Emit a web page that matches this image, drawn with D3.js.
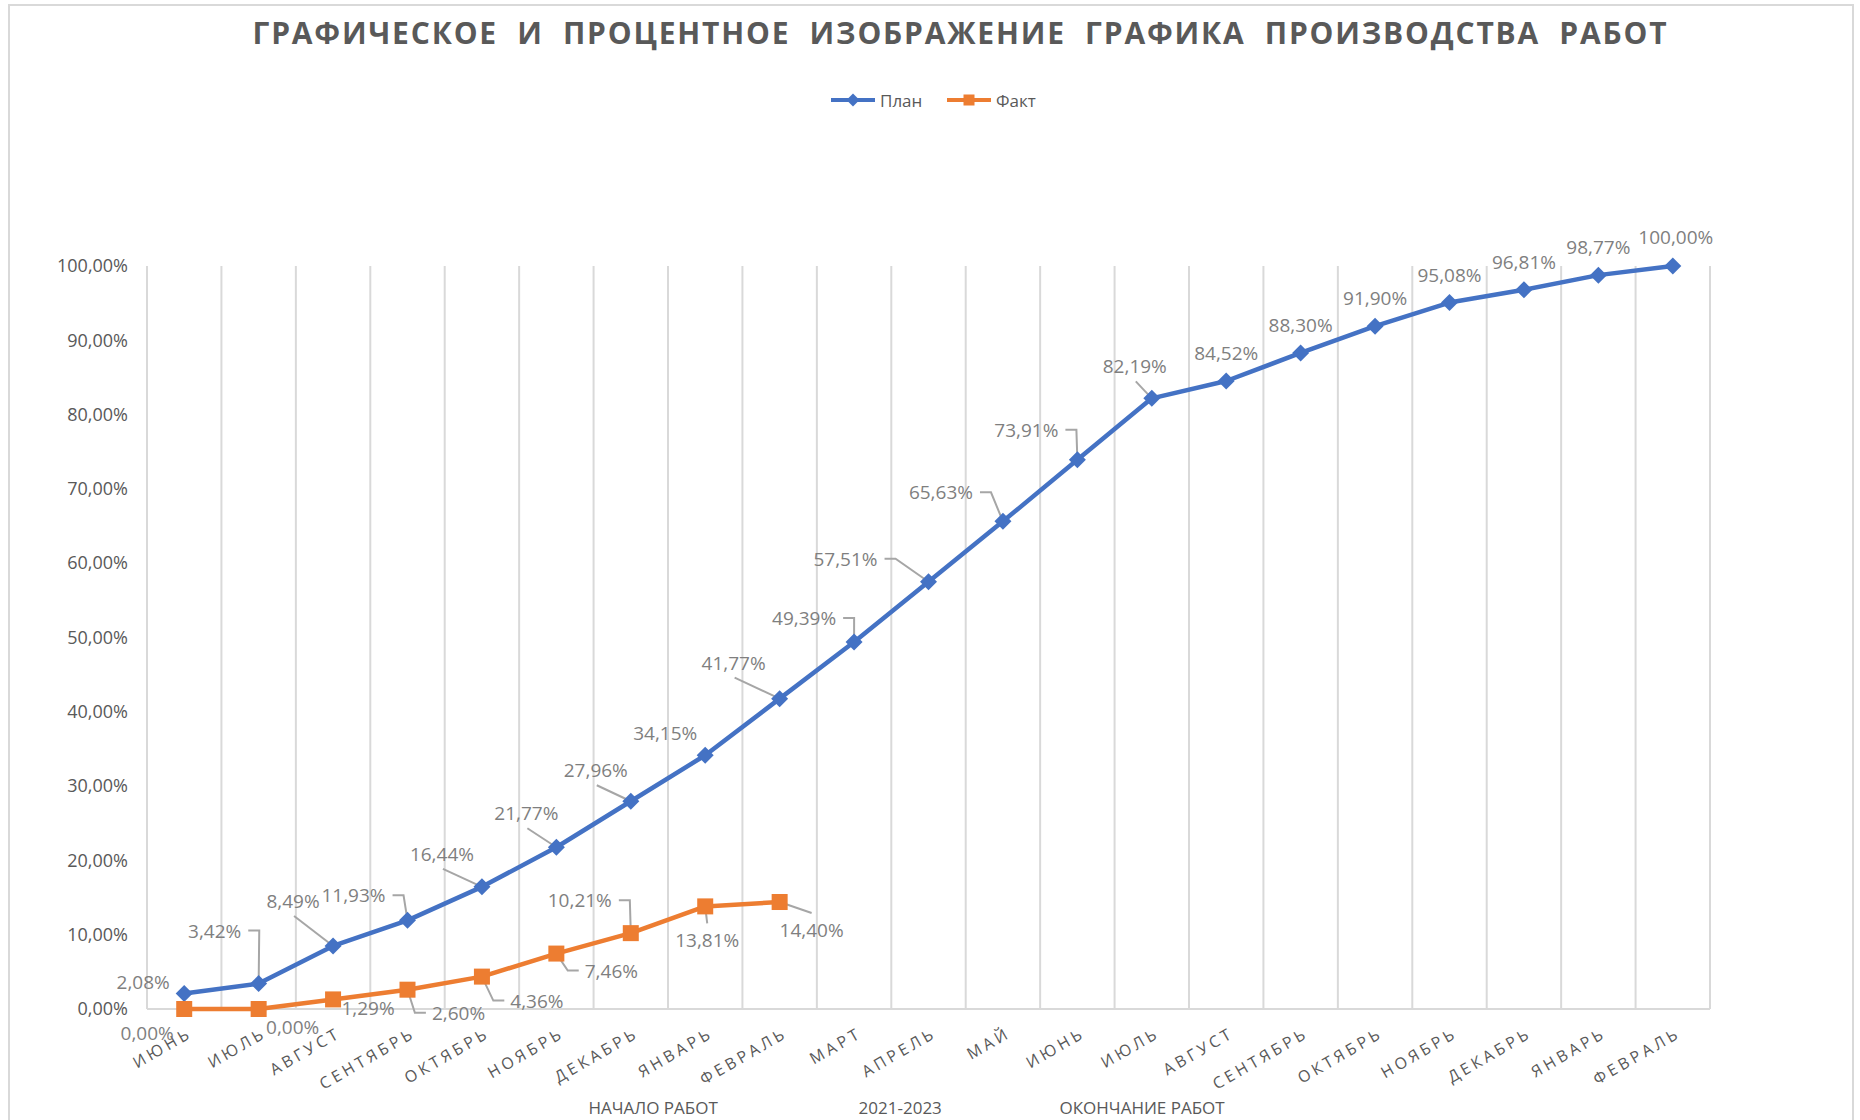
<!DOCTYPE html>
<html>
<head>
<meta charset="utf-8">
<script src="https://cdn.jsdelivr.net/npm/d3@7"></script>
<style>
  body { margin: 0; background: #fff; }
  text { font-family: "Open Sans", sans-serif; }
</style>
</head>
<body>
<svg id="chart" width="1860" height="1120"></svg>
<script>
// chart data
const title = "ГРАФИЧЕСКОЕ  И  ПРОЦЕНТНОЕ  ИЗОБРАЖЕНИЕ  ГРАФИКА  ПРОИЗВОДСТВА  РАБОТ";
const months = ["ИЮНЬ", "ИЮЛЬ", "АВГУСТ", "СЕНТЯБРЬ", "ОКТЯБРЬ", "НОЯБРЬ", "ДЕКАБРЬ",
  "ЯНВАРЬ", "ФЕВРАЛЬ", "МАРТ", "АПРЕЛЬ", "МАЙ", "ИЮНЬ", "ИЮЛЬ", "АВГУСТ",
  "СЕНТЯБРЬ", "ОКТЯБРЬ", "НОЯБРЬ", "ДЕКАБРЬ", "ЯНВАРЬ", "ФЕВРАЛЬ"];
const planValues = [2.08, 3.42, 8.49, 11.93, 16.44, 21.77, 27.96, 34.15, 41.77, 49.39,
  57.51, 65.63, 73.91, 82.19, 84.52, 88.30, 91.90, 95.08, 96.81, 98.77, 100.00];
const factValues = [0.00, 0.00, 1.29, 2.60, 4.36, 7.46, 10.21, 13.81, 14.40];
const yTicks = [0, 10, 20, 30, 40, 50, 60, 70, 80, 90, 100];
const seriesNames = ["План", "Факт"];
const periodLabels = ["НАЧАЛО РАБОТ", "2021-2023", "ОКОНЧАНИЕ РАБОТ"];

// where the captions sit (in bands from the left edge of the plot)
const periodPos = [6.8, 10.12, 13.37];

// data label placement: [dx, dy, leader type] relative to the point
// r = stub to the right, l = stub to the left, d = from below label, u = from above label
const planLabelPos = [[-41, -12, ""], [-44, -53, "r"], [-40, -45, "d"], [-54, -25, "r"],
  [-40, -33, "d"], [-30, -34, "d"], [-35, -31, "d"], [-40, -22, ""], [-46, -36, "d"],
  [-50, -24, "r"], [-83, -23, "r"], [-62, -29, "r"], [-51, -30, "r"], [-17, -32, "d"],
  [0, -28, ""], [0, -28, ""], [0, -28, ""], [0, -28, ""], [0, -28, ""], [0, -28, ""], [3, -29, ""]];
const factLabelPos = [[-37, 24, ""], [34, 18, ""], [35, 9, ""], [51, 23, "l"], [55, 24, "l"],
  [55, 17, "l"], [-51, -33, "r"], [2, 34, "u"], [32, 28, "u"]];

const blue = "#4472C4", orange = "#ED7D31";
const gridColor = "#d9d9d9", textColor = "#595959", labelColor = "#7f7f7f";

const svg = d3.select("#chart");

var x = d3.scaleBand()
  .domain(d3.range(months.length))
  .range([147, 1710])
  .padding(0);

var y = d3.scaleLinear().domain([0, 100]).range([1009, 266]);

const pct = v => d3.format(".2f")(v).replace(".", ",") + "%";
const cx = i => x(i) + x.bandwidth() / 2;

// outer frame
svg.append("rect")
  .attr("x", 9).attr("y", 5)
  .attr("width", 1844).attr("height", 1130)
  .attr("fill", "none")
  .attr("stroke", gridColor)
  .attr("stroke-width", 2);

// title (double spaces kept)
svg.append("text")
  .attr("x", 959.5).attr("y", 32)
  .attr("text-anchor", "middle")
  .attr("dominant-baseline", "central")
  .attr("font-size", 30)
  .attr("font-weight", "bold")
  .attr("fill", textColor)
  .style("white-space", "pre")
  .attr("textLength", 1414)
  .attr("lengthAdjust", "spacing")
  .text(title);

// legend
const legend = svg.append("g").attr("class", "legend");
const legendX = [831, 947];
seriesNames.forEach((name, k) => {
  const g = legend.append("g").attr("transform", "translate(" + legendX[k] + ",100)");
  g.append("line").attr("x1", 0).attr("x2", 44)
    .attr("stroke", k == 0 ? blue : orange).attr("stroke-width", 4);
  if (k == 0) {
    g.append("path").attr("d", "M22,-6.5L28.5,0L22,6.5L15.5,0Z").attr("fill", blue);
  } else {
    g.append("rect").attr("x", 16.5).attr("y", -5.5).attr("width", 11).attr("height", 11).attr("fill", orange);
  }
  g.append("text").attr("x", 49).attr("dominant-baseline", "central")
    .attr("font-size", 17).attr("fill", textColor).text(name);
});

// vertical gridlines at band edges
const edges = x.domain().map(d => x(d)).concat([x.range()[1]]);
svg.append("g").selectAll("line")
  .data(edges)
  .enter().append("line")
  .attr("x1", d => d).attr("x2", d => d)
  .attr("y1", y(100)).attr("y2", y(0))
  .attr("stroke", gridColor)
  .attr("stroke-width", 2);

// horizontal axis line
svg.append("line")
  .attr("x1", x.range()[0]).attr("x2", x.range()[1])
  .attr("y1", y(0)).attr("y2", y(0))
  .attr("stroke", gridColor).attr("stroke-width", 2);

// y axis
var yAxis = d3.axisLeft(y).tickValues(yTicks).tickFormat(pct).tickSize(0).tickPadding(19);
svg.append("g")
  .attr("class", "y-axis")
  .attr("transform", "translate(" + x.range()[0] + ",0)")
  .call(yAxis)
  .call(g => g.select(".domain").remove())
  .selectAll("text")
  .attr("font-size", 18)
  .attr("font-family", "Open Sans, sans-serif")
  .attr("fill", textColor);

// x axis labels, rotated
svg.append("g").selectAll("text")
  .data(months)
  .enter().append("text")
  .attr("transform", (d, i) => "translate(" + (cx(i) + 3) + ",1026) rotate(-30)")
  .attr("text-anchor", "end")
  .attr("dy", "0.75em")
  .attr("font-size", 16)
  .attr("letter-spacing", 3.5)
  .attr("fill", textColor)
  .text(d => d);

// period captions under the axis
svg.append("g").selectAll("text")
  .data(periodLabels)
  .enter().append("text")
  .attr("x", (d, i) => x.range()[0] + x.step() * periodPos[i])
  .attr("y", 1107)
  .attr("text-anchor", "middle")
  .attr("dominant-baseline", "central")
  .attr("font-size", 17)
  .attr("fill", textColor)
  .text(d => d);

// draw one series with its data labels
function drawSeries(values, layout, color, marker) {
  const pts = values.map((v, i) => ({ px: cx(i), py: y(v), v: v, pos: layout[i] }));

  const leaderG = svg.append("g");
  const seriesG = svg.append("g");
  const labelG = svg.append("g");

  const lbl = labelG.selectAll("text")
    .data(pts)
    .enter().append("text")
    .attr("x", d => d.px + d.pos[0])
    .attr("y", d => d.py + d.pos[1])
    .attr("text-anchor", "middle")
    .attr("dominant-baseline", "central")
    .attr("font-size", 19)
    .attr("fill", labelColor)
    .text(d => pct(d.v));

  // leader lines, measured from the label text
  lbl.each(function(d) {
    const w = this.getComputedTextLength();
    const lx = d.px + d.pos[0], ly = d.py + d.pos[1];
    let path = null;
    if (d.pos[2] == "r") {
      path = "M" + (lx + w / 2 + 7) + "," + ly + "H" + (lx + w / 2 + 18) + "L" + d.px + "," + d.py;
    } else if (d.pos[2] == "l") {
      path = "M" + (lx - w / 2 - 6) + "," + ly + "H" + (lx - w / 2 - 17) + "L" + d.px + "," + d.py;
    } else if (d.pos[2] == "d") {
      path = "M" + (lx + 1) + "," + (ly + 15) + "L" + d.px + "," + d.py;
    } else if (d.pos[2] == "u") {
      path = "M" + lx + "," + (ly - 17) + "L" + d.px + "," + d.py;
    }
    if (path) {
      leaderG.append("path").attr("d", path)
        .attr("fill", "none").attr("stroke", "#a6a6a6").attr("stroke-width", 2);
    }
  });

  seriesG.append("path")
    .datum(pts)
    .attr("fill", "none")
    .attr("stroke", color)
    .attr("stroke-width", 4.5)
    .attr("stroke-linejoin", "round")
    .attr("d", d3.line().x(d => d.px).y(d => d.py));

  if (marker == "diamond") {
    const r = 8.5;
    seriesG.selectAll(".mk").data(pts).enter().append("path")
      .attr("class", "mk")
      .attr("d", d => "M" + d.px + "," + (d.py - r) + "L" + (d.px + r) + "," + d.py +
        "L" + d.px + "," + (d.py + r) + "L" + (d.px - r) + "," + d.py + "Z")
      .attr("fill", color);
  } else {
    seriesG.selectAll(".mk").data(pts).enter().append("rect")
      .attr("class", "mk")
      .attr("x", d => d.px - 8).attr("y", d => d.py - 8)
      .attr("width", 16).attr("height", 16)
      .attr("fill", color);
  }
}

drawSeries(planValues, planLabelPos, blue, "diamond");
drawSeries(factValues, factLabelPos, orange, "square");
</script>
</body>
</html>
